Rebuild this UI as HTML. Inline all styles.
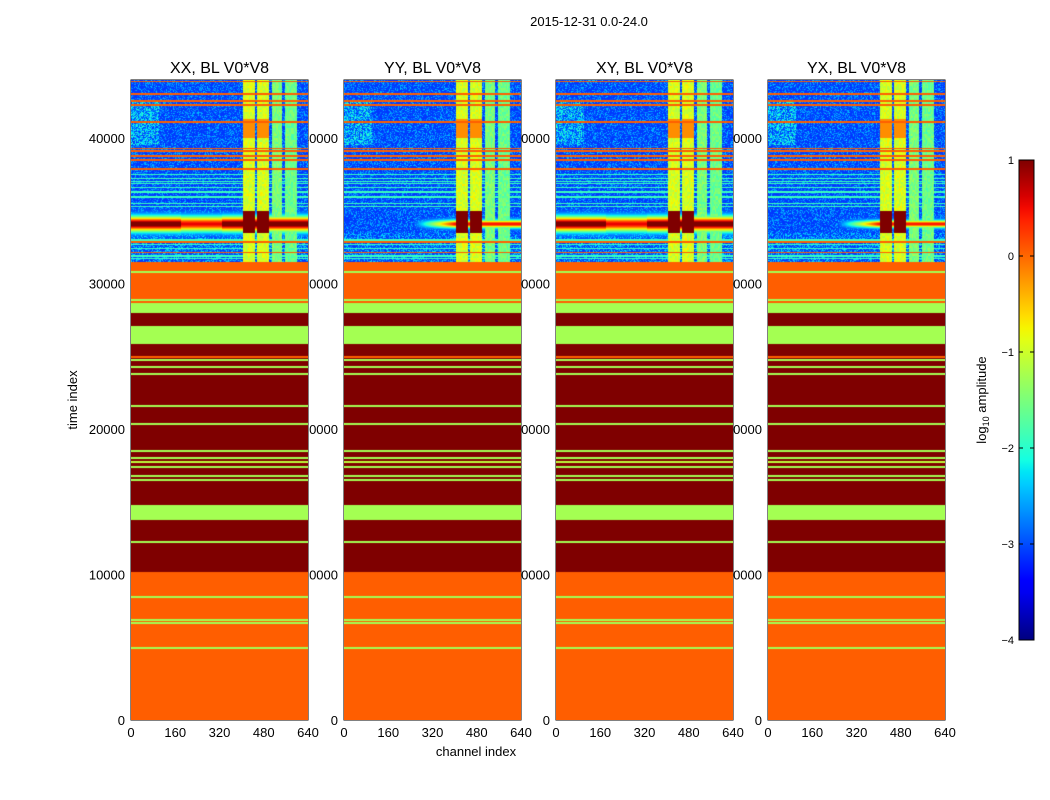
<!DOCTYPE html>
<html><head><meta charset="utf-8"><style>
body{margin:0;background:#fff;width:1050px;height:800px;overflow:hidden;position:relative;font-family:"Liberation Sans","DejaVu Sans",sans-serif;}
.t{position:absolute;font-size:13px;color:#000;white-space:nowrap;}
canvas{position:absolute;}
</style></head><body>
<div class="t" style="left:489px;top:14px;width:200px;text-align:center;">2015-12-31 0.0-24.0</div>
<svg id="ax" width="1050" height="800" style="position:absolute;left:0;top:0"></svg>
<script>
// ---- data ----
const panelTitles = ["XX, BL V0*V8","YY, BL V0*V8","XY, BL V0*V8","YX, BL V0*V8"];
const xTicks = [0,160,320,480,640];
const yTicks = [0,10000,20000,30000,40000];
const cbTicks = [1,0,-1,-2,-3,-4];
const tMax = 44000, cMax = 640, vMin = -4, vMax = 1;
// lower region bands [tStart, tEnd, log10 value]
const bandStart = [0,10170,13750,13950,14780,24880,25020,25840,27080,27970,28660,31480];
const bandEnd   = [10170,13750,13950,14780,24880,25020,25840,27080,27970,28660,31480,31500];
const bandValue = [0.05,1.0,-1.25,-1.25,1.0,0.05,1.0,-1.25,1.0,-1.25,0.05,0.05];
// thin lines in lower region
const thinT = [4950,6670,6870,8450,12230,16500,16770,17390,17730,18010,18490,20340,21580,23780,24260,24740,28870,30790];
const thinV = [-1.25,-1.25,-1.25,-1.25,-1.25,-1.25,-1.25,-1.25,-1.1,-1.25,-1.25,-1.25,-1.25,-1.25,-1.25,-1.25,-1.25,-1.25];
// upper (noisy) region
const noiseBase = -3.1;
const colStart = [405,456,510,557];
const colEnd   = [448,499,546,600];
const colValue = [-0.95,-0.95,-1.5,-1.6];
const orangeLinesT = [43900,43030,42540,42270,41100,39300,39100,38760,38480,37900,32850,32150];
const lightLinesT = [37500,37200,36900,36600,36300,35900,35500,33000,32700,32400,31900,31700,36000,37000,35300];
const blobT = [33500,35000];
const bandCenterT = 34100;
const bandWidth = [500,260,500,240];     // per panel, time units
const bandStrength = [4.3,3.6,4.3,3.6];
const bandLeftReach = [0,400,0,400];     // channel where band starts

function jet(v){
  let f=(v-vMin)/(vMax-vMin); f=Math.max(0,Math.min(1,f));
  const interp=(pts)=>{for(let i=0;i<pts.length-1;i++){const [x0,y0]=pts[i],[x1,y1]=pts[i+1];if(f>=x0&&f<=x1)return y0+(y1-y0)*(f-x0)/(x1-x0);}return pts[pts.length-1][1];};
  const r=interp([[0,0],[0.35,0],[0.66,1],[0.89,1],[1,0.5]]);
  const g=interp([[0,0],[0.125,0],[0.375,1],[0.64,1],[0.91,0],[1,0]]);
  const b=interp([[0,0.5],[0.11,1],[0.34,1],[0.65,0],[1,0]]);
  return [r*255|0,g*255|0,b*255|0];
}
function hash(a,b,s){let h=(a*374761393+b*668265263+s*2147483647)|0;h=(h^(h>>>13))*1274126177|0;return ((h^(h>>>16))>>>0)/4294967295;}

const PL=[131,344,556,768], PT=80, PW=177, PH=640;
const svg=document.getElementById('ax'); const NS='http://www.w3.org/2000/svg';
function el(tag,attrs,parent){const e=document.createElementNS(NS,tag);for(const k in attrs)e.setAttribute(k,attrs[k]);(parent||svg).appendChild(e);return e;}
const xs=c=>c/cMax*PW, ys=t=>PH-t/tMax*PH;

function valueAt(p,c,t,row){
  if(t<31500){
    let v=0.05;
    for(let i=0;i<bandStart.length;i++) if(t>=bandStart[i]&&t<bandEnd[i]) v=bandValue[i];
    for(let i=0;i<thinT.length;i++) if(Math.abs(t-thinT[i])<45) v=thinV[i];
    return v;
  }
  let v=noiseBase+(hash(c>>1,row,p)-0.5)*1.4;
  if(c<100&&t>39500&&t<42600) v+=0.5;
  if(t<33500&&t>31500) v+=0.2;
  for(let i=0;i<orangeLinesT.length;i++) if(Math.abs(t-orangeLinesT[i])<55) return 0.05;
  for(let i=0;i<lightLinesT.length;i++) if(Math.abs(t-lightLinesT[i])<40) v=Math.max(v,-1.9);
  for(let i=0;i<colStart.length;i++) if(c>=colStart[i]&&c<colEnd[i]){
    v=colValue[i]+(hash(c>>2,row>>1,p+7)-0.5)*0.5;
    if(i<2&&t>40000&&t<41300) v=-0.2;
    if(i<2&&t>=blobT[0]&&t<blobT[1]) v=1.0;
  }
  const d=(t-bandCenterT)/bandWidth[p];
  let amp=bandStrength[p]*Math.exp(-d*d);
  if(c<bandLeftReach[p]) amp*=Math.max(0,(c-bandLeftReach[p]+150)/150);
  if(p%2===0&&c>180&&c<330) amp*=0.85;
  v=Math.max(v,noiseBase+amp);
  return Math.min(v,1);
}

for(let p=0;p<4;p++){
  const cv=document.createElement('canvas');cv.width=PW;cv.height=PH;
  cv.style.left=PL[p]+'px';cv.style.top=PT+'px';
  
  
  document.body.appendChild(cv);
  const ctx=cv.getContext('2d');const img=ctx.createImageData(PW,PH);
  for(let y=0;y<PH;y++){const t=(PH-y-0.5)/PH*tMax;
    for(let x=0;x<PW;x++){const c=(x+0.5)/PW*cMax;
      const col=jet(valueAt(p,c,t,y));const k=(y*PW+x)*4;
      img.data[k]=col[0];img.data[k+1]=col[1];img.data[k+2]=col[2];img.data[k+3]=255;}}
  ctx.putImageData(img,0,0);
  const g=el('g',{transform:`translate(${PL[p]},${PT})`});
  
  
  const fr=el('rect',{x:0,y:0,width:PW,height:PH,fill:'none',stroke:'#000','stroke-width':1},g);
  
  
  const tt=el('text',{x:PW/2,y:-7,'text-anchor':'middle','font-size':16},g);tt.textContent=panelTitles[p];
  
  
  xTicks.forEach(v=>{const x=xs(v);
    el('line',{x1:x,x2:x,y1:PH,y2:PH-4,stroke:'#000'},g);el('line',{x1:x,x2:x,y1:0,y2:4,stroke:'#000'},g);
    const l=el('text',{x:x,y:PH+17,'text-anchor':'middle','font-size':13},g);l.textContent=v;
    
    });
  yTicks.forEach(v=>{const y=ys(v);
    el('line',{x1:0,x2:4,y1:y,y2:y,stroke:'#000'},g);el('line',{x1:PW,x2:PW-4,y1:y,y2:y,stroke:'#000'},g);
    const l=el('text',{x:-6,y:y+5,'text-anchor':'end','font-size':13},g);l.textContent=v;
    
    });
}
let a=el('text',{x:476,y:756,'text-anchor':'middle','font-size':13});a.textContent='channel index';

a=el('text',{x:77,y:400,'text-anchor':'middle','font-size':13,transform:'rotate(-90 77 400)'});a.textContent='time index';

// colorbar
const CX=1019,CY=160,CW=15,CH=480;
const defs=el('defs',{});const lg=el('linearGradient',{id:'jg',x1:0,y1:1,x2:0,y2:0},defs);
for(let i=0;i<=40;i++){const c=jet(vMin+(vMax-vMin)*i/40);el('stop',{offset:i/40,'stop-color':`rgb(${c})`},lg);}
const cb=el('rect',{x:CX,y:CY,width:CW,height:CH,fill:'url(#jg)',stroke:'#000'});

cbTicks.forEach(v=>{const y=CY+(vMax-v)/(vMax-vMin)*CH;
  el('line',{x1:CX,x2:CX+4,y1:y,y2:y,stroke:'#000'});el('line',{x1:CX+CW,x2:CX+CW-4,y1:y,y2:y,stroke:'#000'});
  const l=el('text',{x:CX-5,y:y+4,'text-anchor':'end','font-size':11});l.textContent=String(v).replace('-','\u2212');
  });
a=el('text',{x:986,y:400,'text-anchor':'middle','font-size':13,transform:'rotate(-90 986 400)'});
a.innerHTML='log<tspan font-size="9" dy="3">10</tspan><tspan dy="-3"> amplitude</tspan>';

</script>
</body></html>
